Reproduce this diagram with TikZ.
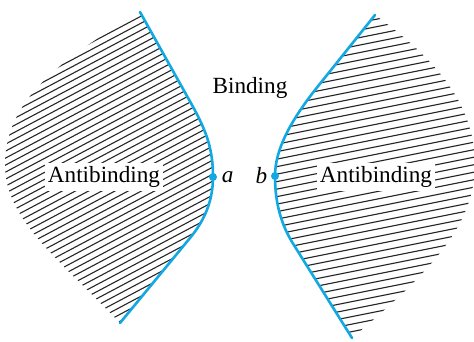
\documentclass[tikz,border=0pt]{standalone}
\usepackage{fontspec}
\setmainfont{Liberation Serif}
\usetikzlibrary{positioning}
\definecolor{curveBlue}{HTML}{12A8E2}
\definecolor{hatchGray}{HTML}{262626}
\tikzset{
  bondCurve/.style={curveBlue, line width=1.3pt, line cap=round},
  hatchLine/.style={hatchGray, line width=0.55pt},
  regionLabel/.style={
    fill=white,
    inner sep=1.5pt,
    font=\fontsize{11.6}{14}\selectfont
  },
  pointLabel/.style={font=\fontsize{11.6}{14}\selectfont\itshape, inner sep=1pt},
  turnPoint/.style={circle, fill=curveBlue, inner sep=0pt, minimum size=4pt}
}

\begin{document}
\begin{tikzpicture}[x=0.5pt,y=-0.5pt]
  \useasboundingbox (0,0) rectangle (474,341);
  \begin{scope}
    \clip (140,12) -- (192,105) .. controls (207,132) and (213,150) .. (213,177)
      .. controls (213,200) and (205,220) .. (190,238) -- (120,323)
      .. controls (60,260) and (5,220) .. (5,165)
      .. controls (5,100) and (60,60) .. (140,12) -- cycle;
    \foreach \c in {0,7,...,470} {
      \draw[hatchLine] (0,\c) -- (230,\c-122);
    }
  \end{scope}
  \begin{scope}
    \clip (375,15) -- (315,90) .. controls (290,122) and (275,150) .. (275,176)
      .. controls (275,205) and (282,225) .. (292,242) -- (352,338)
      .. controls (420,280) and (475,230) .. (475,165)
      .. controls (475,100) and (430,55) .. (375,15) -- cycle;
    \foreach \c in {5,12.5,...,400} {
      \draw[hatchLine] (260,\c) -- (480,\c-44);
    }
  \end{scope}

  \draw[bondCurve] (140,12) -- (192,105) .. controls (207,132) and (213,150) .. (213,177)
    .. controls (213,200) and (205,220) .. (190,238) -- (120,323);
  \draw[bondCurve] (375,15) -- (315,90) .. controls (290,122) and (275,150) .. (275,176)
    .. controls (275,205) and (282,225) .. (292,242) -- (352,338);

  \node[turnPoint] (a) at (213,177) {};
  \node[turnPoint] (b) at (275,176) {};
  \node[pointLabel, right=1pt of a] (aLabel) {a};
  \node[pointLabel, left=0.5pt of b] (bLabel) {b};
  \node[regionLabel] (binding) at (250,88) {Binding};
  \node[regionLabel] (antiLeft) at (104,177) {Antibinding};
  \node[regionLabel] (antiRight) at (376,177) {Antibinding};
\end{tikzpicture}
\end{document}
